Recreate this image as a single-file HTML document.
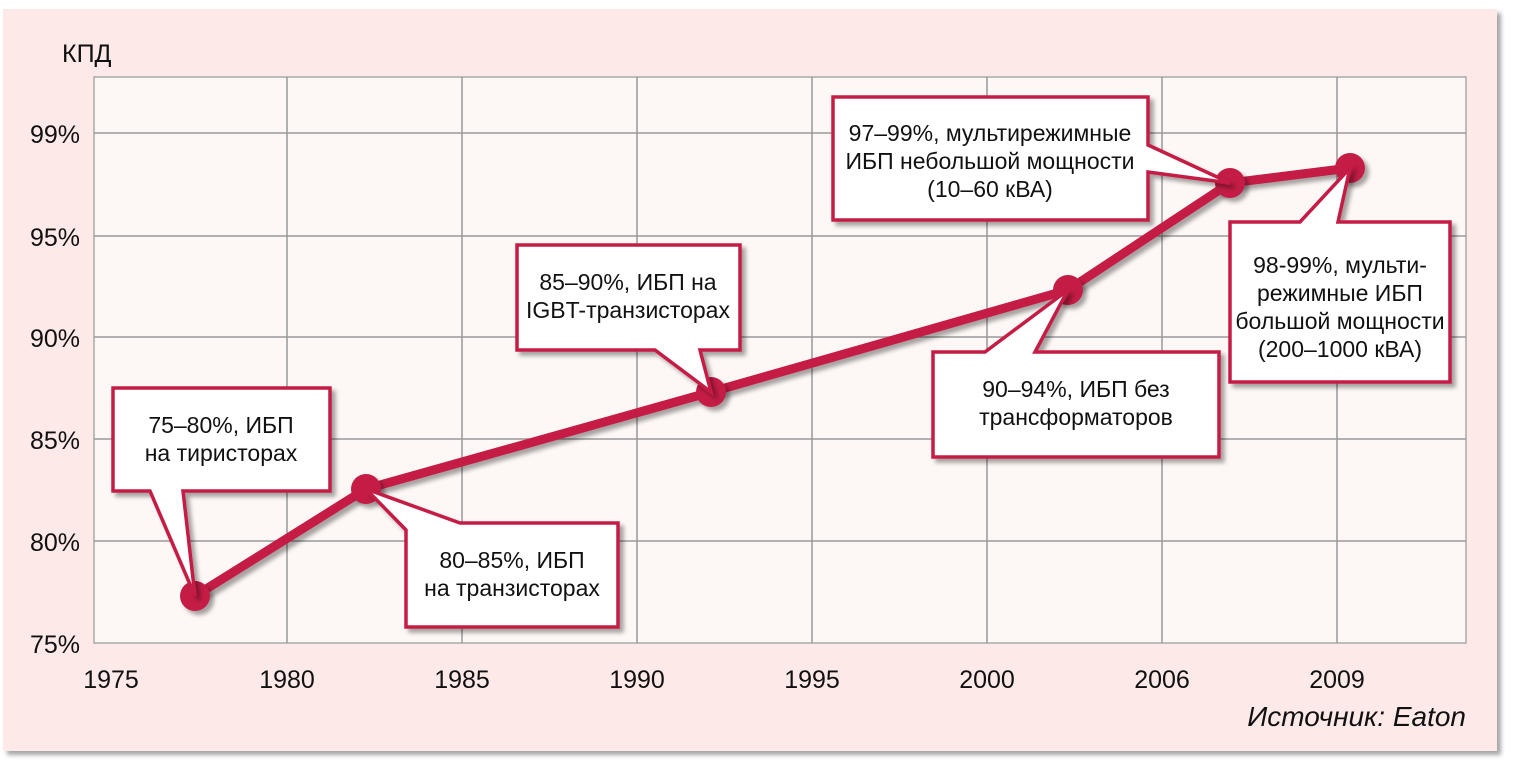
<!DOCTYPE html>
<html><head><meta charset="utf-8"><style>
body{margin:0;background:#fff;}
svg text{font-family:"Liberation Sans Narrow","Liberation Sans",sans-serif;fill:#111;}
</style></head><body>
<svg width="1514" height="768" xmlns="http://www.w3.org/2000/svg">
<defs>
<filter id="sh" x="-10%" y="-10%" width="130%" height="130%"><feDropShadow dx="4" dy="4" stdDeviation="2" flood-color="#000" flood-opacity="0.35"/></filter>
</defs>
<rect x="3" y="9" width="1494" height="742" fill="#fde9e7" filter="url(#sh)"/>
<rect x="94" y="77" width="1372" height="566" fill="#fdf7f5" stroke="#aaa" stroke-width="1.5"/>
<g stroke="#999" stroke-width="1.5">
<line x1="287" y1="77" x2="287" y2="643"/><line x1="462" y1="77" x2="462" y2="643"/>
<line x1="637" y1="77" x2="637" y2="643"/><line x1="812" y1="77" x2="812" y2="643"/>
<line x1="987" y1="77" x2="987" y2="643"/><line x1="1162" y1="77" x2="1162" y2="643"/>
<line x1="1337" y1="77" x2="1337" y2="643"/>
<line x1="94" y1="133" x2="1466" y2="133"/><line x1="94" y1="236" x2="1466" y2="236"/>
<line x1="94" y1="337" x2="1466" y2="337"/><line x1="94" y1="439" x2="1466" y2="439"/>
<line x1="94" y1="541" x2="1466" y2="541"/>
</g>
<g font-size="25">
<text x="62" y="62">КПД</text>
<g text-anchor="end"><text x="80" y="143">99%</text><text x="80" y="246">95%</text><text x="80" y="347">90%</text><text x="80" y="449">85%</text><text x="80" y="551">80%</text><text x="80" y="653">75%</text></g>
<g text-anchor="middle"><text x="111" y="688">1975</text><text x="287" y="688">1980</text><text x="462" y="688">1985</text><text x="637" y="688">1990</text><text x="812" y="688">1995</text><text x="987" y="688">2000</text><text x="1162" y="688">2006</text><text x="1337" y="688">2009</text></g>
<text x="1466" y="726" text-anchor="end" font-style="italic" font-size="28">Источник: Eaton</text>
</g>
<polyline points="195,596 366,489 711,392 1068,290 1230,183 1350,168" fill="none" stroke="#c41e45" stroke-width="9" stroke-linejoin="round" filter="url(#sh)"/>
<g fill="#c41e45" filter="url(#sh)">
<circle cx="195" cy="596" r="15"/><circle cx="366" cy="489" r="15"/><circle cx="711" cy="392" r="15"/><circle cx="1068" cy="290" r="15"/><circle cx="1230" cy="183" r="15"/><circle cx="1350" cy="168" r="15"/>
</g>
<g fill="#fff" stroke="#c41e45" stroke-width="3.5" stroke-linejoin="miter" filter="url(#sh)">
<path d="M113,388 H330 V491 H183 L195,596 L150,491 H113 Z"/>
<path d="M366,489 L460,523 H618 V627 H406 V530 Z"/>
<path d="M517,245 H740 V350 H700 L711,392 L655,350 H517 Z"/>
<path d="M833,97 H1148 V145 L1230,183 L1148,172 V220 H833 Z"/>
<path d="M933,352 H985 L1068,290 L1035,352 H1219 V457 H933 Z"/>
<path d="M1230,222 H1300 L1350,168 L1338,222 H1450 V382 H1230 Z"/>
</g>
<g font-size="23" text-anchor="middle">
<text x="221" y="433">75–80%, ИБП</text><text x="221" y="461">на тиристорах</text>
<text x="512" y="568">80–85%, ИБП</text><text x="512" y="596">на транзисторах</text>
<text x="628" y="290">85–90%, ИБП на</text><text x="628" y="318">IGBT-транзисторах</text>
<text x="990" y="141">97–99%, мультирежимные</text><text x="990" y="169">ИБП небольшой мощности</text><text x="990" y="197">(10–60 кВА)</text>
<text x="1076" y="397">90–94%, ИБП без</text><text x="1076" y="425">трансформаторов</text>
<text x="1340" y="273">98-99%, мульти-</text><text x="1340" y="301">режимные ИБП</text><text x="1340" y="329">большой мощности</text><text x="1340" y="357">(200–1000 кВА)</text>
</g>
</svg>
</body></html>
